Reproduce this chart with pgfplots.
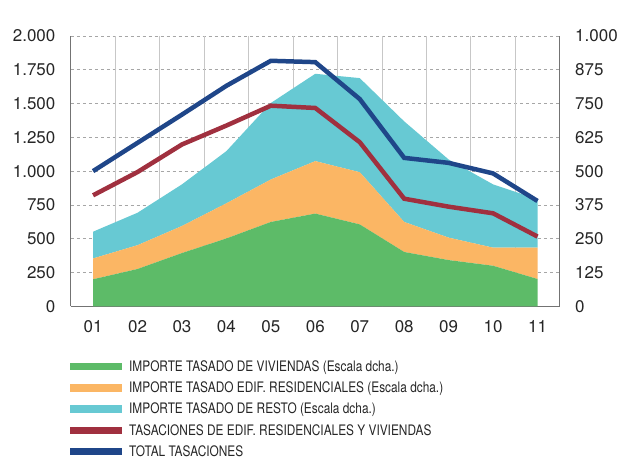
\documentclass[border=0pt]{standalone}
\usepackage{fontspec}
\setmainfont{TeX Gyre Heros}
\newfontfamily\narrowfont[FakeStretch=0.82]{TeX Gyre Heros}
\usepackage{pgfplots}
\pgfplotsset{compat=1.18}
\definecolor{cgreen}{HTML}{5DBB68}
\definecolor{corange}{HTML}{FBB664}
\definecolor{ccyan}{HTML}{67C9D3}
\definecolor{cred}{HTML}{A0303F}
\definecolor{cnavy}{HTML}{1F4689}
\definecolor{ctext}{HTML}{262626}
\begin{document}
\begin{tikzpicture}
\pgfplotsset{
  base/.style={
    scale only axis, width=490pt, height=271pt,
    at={(0pt,0pt)}, anchor=south west,
    xmin=0.5, xmax=11.5,
    enlargelimits=false,
    /pgf/number format/assume math mode=true,
    /pgf/number format/1000 sep={.},
    ticklabel style={font=\fontsize{17}{20}\selectfont, text=ctext},
    axis line style={draw=black!55, line width=1pt},
    major tick length=0pt,
  }
}
% Right axis: stacked areas
\begin{axis}[base,
  ymin=0, ymax=1000,
  ytick={0,125,...,1000},
  axis x line*=bottom, axis y line*=right,
  ymajorgrids, major grid style={dashed, draw=black!35, line width=0.8pt},
  xtick={1,...,11},
  xticklabels={01,02,03,04,05,06,07,08,09,10,11},
  xticklabel style={yshift=-11pt},
  yticklabel style={xshift=12pt},
  extra x ticks={1.5,2.5,...,10.5},
  extra x tick labels={},
  extra x tick style={xmajorgrids=true, major tick length=5pt,
     tick style={draw=black!55, line width=1pt},
     major grid style={solid, draw=black!22, line width=0.8pt}},
  stack plots=y,
]
\addplot[fill=cgreen, draw=none] coordinates {
(1,100) (2,138) (3,197) (4,251) (5,312) (6,343) (7,303) (8,201) (9,171) (10,150) (11,101)} \closedcycle;
\addplot[fill=corange, draw=none] coordinates {
(1,77) (2,88) (3,100) (4,130) (5,157) (6,194) (7,193) (8,111) (9,83) (10,67) (11,116)} \closedcycle;
\addplot[fill=ccyan, draw=none] coordinates {
(1,99) (2,120) (3,154) (4,193) (5,283) (6,323) (7,348) (8,372) (9,289) (10,234) (11,179)} \closedcycle;
\node[anchor=base east, font=\fontsize{14.5}{17}\selectfont, text=ctext] at (rel axis cs:1,1) [yshift=12pt] {mm de euros};
\end{axis}
% Left axis: lines
\begin{axis}[base,
  ymin=0, ymax=2000,
  ytick={0,250,...,2000},
  axis y line*=left, axis x line=none,
  yticklabel style={xshift=-12pt},
  legend image code/.code={\path[#1, draw=none, line width=0pt, fill] (0pt,-3.75pt) rectangle (52pt,3.75pt);},
  legend style={draw=none, fill=none, at={(0,0)}, anchor=north west,
     xshift=-3.75pt, yshift=-50pt, row sep=5pt,
     font=\narrowfont\fontsize{14.5}{16}\selectfont, text=ctext,
     cells={anchor=west},
     /tikz/every odd column/.append style={column sep=5pt}},
  legend cell align=left,
]
\addlegendimage{color=cgreen}
\addlegendentry{IMPORTE TASADO DE VIVIENDAS (Escala dcha.)}
\addlegendimage{color=corange}
\addlegendentry{IMPORTE TASADO EDIF. RESIDENCIALES (Escala dcha.)}
\addlegendimage{color=ccyan}
\addlegendentry{IMPORTE TASADO DE RESTO (Escala dcha.)}
\addplot[color=cred, line width=4.5pt] coordinates {
(1,821) (2,993) (3,1197) (4,1337) (5,1484) (6,1467) (7,1214) (8,796) (9,737) (10,688) (11,516)};
\addlegendentry{TASACIONES DE EDIF. RESIDENCIALES Y VIVIENDAS}
\addplot[color=cnavy, line width=4.5pt] coordinates {
(1,1000) (2,1209) (3,1418) (4,1631) (5,1816) (6,1806) (7,1533) (8,1098) (9,1061) (10,983) (11,779)};
\addlegendentry{TOTAL TASACIONES}
\node[anchor=base west, font=\fontsize{14.5}{17}\selectfont, text=ctext] at (rel axis cs:0,1) [yshift=12pt, xshift=-2pt] {Número, miles};
\end{axis}
\path[use as bounding box] (-71pt,-152pt) rectangle (550pt,307pt);
\end{tikzpicture}
\end{document}
